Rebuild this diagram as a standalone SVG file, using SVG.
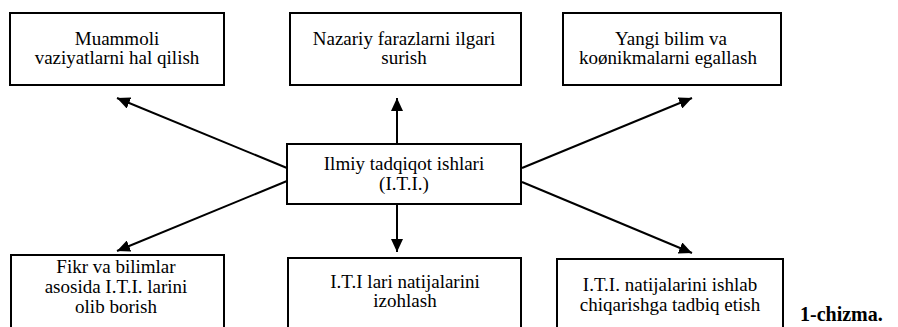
<svg xmlns="http://www.w3.org/2000/svg" width="898" height="327" viewBox="0 0 898 327">
<style>
.box{fill:#fff;stroke:#000;stroke-width:2}
.t{font-family:"Liberation Serif","Times New Roman",serif;font-size:19px;fill:#000;text-anchor:middle}
.c{stroke:#000;stroke-width:2;fill:none;marker-end:url(#ah)}
.cap{font-family:"Liberation Serif","Times New Roman",serif;font-size:20px;font-weight:bold;fill:#000}
</style>
<defs>
<marker id="ah" markerUnits="userSpaceOnUse" markerWidth="14" markerHeight="12" refX="13" refY="6" orient="auto">
<path d="M0,0 L13,6 L0,12 z" fill="#000"/>
</marker>
</defs>
<rect width="898" height="327" fill="#fff"/>
<g id="connectors">
<line class="c" x1="397" y1="144" x2="397" y2="98"/>
<line class="c" x1="397" y1="204" x2="397" y2="252"/>
<line class="c" x1="287" y1="168" x2="117" y2="98"/>
<line class="c" x1="287" y1="181" x2="117" y2="251"/>
<line class="c" x1="522" y1="168" x2="692" y2="98"/>
<line class="c" x1="522" y1="182" x2="692" y2="253"/>
</g>
<g id="n-center">
<rect class="box" x="287" y="144" width="234" height="60"/>
<text class="t" x="404" y="170">Ilmiy tadqiqot ishlari</text>
<text class="t" x="404" y="190">(I.T.I.)</text>
</g>
<g id="n-top-left">
<rect class="box" x="10" y="13" width="214" height="72"/>
<text class="t" x="117" y="45">Muammoli</text>
<text class="t" x="117" y="64">vaziyatlarni hal qilish</text>
</g>
<g id="n-top-mid">
<rect class="box" x="290" y="13" width="231" height="72"/>
<text class="t" x="404" y="45">Nazariy farazlarni ilgari</text>
<text class="t" x="404" y="64">surish</text>
</g>
<g id="n-top-right">
<rect class="box" x="563" y="13" width="218" height="72"/>
<text class="t" x="671" y="45">Yangi bilim va</text>
<text class="t" x="668" y="64">koønikmalarni egallash</text>
</g>
<g id="n-bot-left">
<rect class="box" x="11" y="255" width="213" height="90"/>
<text class="t" x="116" y="273">Fikr va bilimlar</text>
<text class="t" x="116" y="293">asosida I.T.I. larini</text>
<text class="t" x="116" y="313">olib borish</text>
</g>
<g id="n-bot-mid">
<rect class="box" x="288" y="258" width="233" height="90"/>
<text class="t" x="405" y="288">I.T.I lari natijalarini</text>
<text class="t" x="405" y="307">izohlash</text>
</g>
<g id="n-bot-right">
<rect class="box" x="557" y="259" width="226" height="90"/>
<text class="t" x="670" y="291">I.T.I. natijalarini ishlab</text>
<text class="t" x="670" y="311">chiqarishga tadbiq etish</text>
</g>
<text class="cap" x="800" y="321">1-chizma.</text>
</svg>
